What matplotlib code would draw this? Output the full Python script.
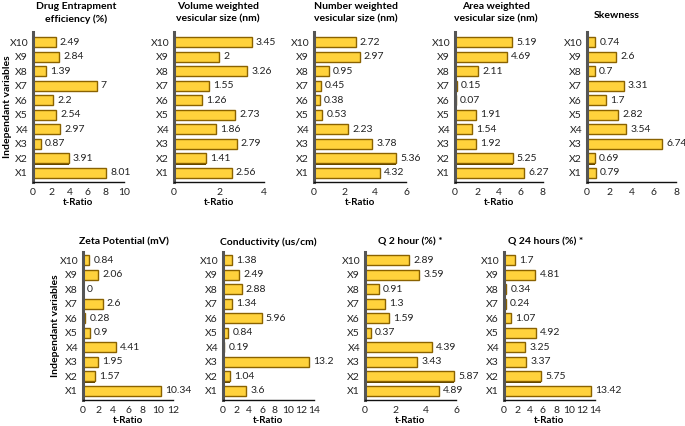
import matplotlib
matplotlib.use("Agg")
import matplotlib.pyplot as plt

plt.rcParams['font.family'] = ['Lato', 'DejaVu Sans']

variables = ['X1', 'X2', 'X3', 'X4', 'X5', 'X6', 'X7', 'X8', 'X9', 'X10']

entrapment = [8.01, 3.91, 0.87, 2.97, 2.54, 2.2, 7, 1.39, 2.84, 2.49]
volume_size = [2.56, 1.41, 2.79, 1.86, 2.73, 1.26, 1.55, 3.26, 2, 3.45]
number_size = [4.32, 5.36, 3.78, 2.23, 0.53, 0.38, 0.45, 0.95, 2.97, 2.72]
area_size = [6.27, 5.25, 1.92, 1.54, 1.91, 0.07, 0.15, 2.11, 4.69, 5.19]
skewness = [0.79, 0.69, 6.74, 3.54, 2.82, 1.7, 3.31, 0.7, 2.6, 0.74]
zeta = [10.34, 1.57, 1.95, 4.41, 0.9, 0.28, 2.6, 0, 2.06, 0.84]
conductivity = [3.6, 1.04, 13.2, 0.19, 0.84, 5.96, 1.34, 2.88, 2.49, 1.38]
q2 = [4.89, 5.87, 3.43, 4.39, 0.37, 1.59, 1.3, 0.91, 3.59, 2.89]
q24 = [13.42, 5.75, 3.37, 3.25, 4.92, 1.07, 0.24, 0.34, 4.81, 1.7]

titles = ['Drug Entrapment\nefficiency (%)', 'Volume weighted\nvesicular size (nm)',
          'Number weighted\nvesicular size (nm)', 'Area weighted\nvesicular size (nm)',
          'Skewness', 'Zeta Potential (mV)', 'Conductivity (us/cm)',
          'Q 2 hour (%) *', 'Q 24 hours (%) *']
series = [entrapment, volume_size, number_size, area_size, skewness,
          zeta, conductivity, q2, q24]
xmax = [10, 4, 6, 8, 8, 12, 14, 6, 14]

W, H = 685, 426
# axes boxes in pixels: left, right, top, bottom
boxes = [(33, 124, 32, 182), (174, 264, 32, 182), (314, 406, 32, 182),
         (455, 543, 32, 182), (587, 676, 32, 182),
         (83, 173, 252, 400), (223, 314, 252, 400), (365, 456, 252, 400),
         (504, 595, 252, 400)]
# title centres in pixels
title_pos = [(76, 13), (218, 13), (356, 13), (496, 13), (617, 15),
             (124, 242), (268, 242), (410, 242), (546, 242)]
show_xlabel = [True, True, True, True, False, True, True, True, True]

fig = plt.figure(figsize=(W / 100, H / 100), dpi=100)

for i, (vals, title, xm, box) in enumerate(zip(series, titles, xmax, boxes)):
    l, r, t, b = box
    ax = fig.add_axes([l / W, 1 - b / H, (r - l) / W, (b - t) / H])
    y = list(range(len(variables)))
    # shadow then bar
    ax.barh([v - 0.08 for v in y], vals, height=0.68, color='#5a4200', zorder=1)
    ax.barh(y, vals, height=0.68, color='#FFD23C', edgecolor='#8a6200',
            linewidth=1.0, zorder=2)
    for yy, v in zip(y, vals):
        ax.annotate(f'{v:g}', (v, yy), xytext=(3, 0), textcoords='offset points',
                    va='center', ha='left', fontsize=7.5, color='#222222',
                    annotation_clip=False)
    ax.set_xlim(0, xm)
    ax.set_ylim(-0.62, 9.69 if i < 5 else 9.55)
    ax.set_xticks(range(0, xm + 1, 2))
    ax.set_yticks(y)
    ax.set_yticklabels(variables)
    ax.tick_params(length=0, labelsize=7.5, colors='#222222')
    ax.tick_params(axis='x', pad=4)
    ax.spines['top'].set_visible(False)
    ax.spines['right'].set_visible(False)
    ax.spines['left'].set_color('#555555')
    ax.spines['left'].set_linewidth(2.2)
    ax.spines['bottom'].set_color('#111111')
    ax.spines['bottom'].set_linewidth(1.0)
    tx, ty = title_pos[i]
    fig.text(tx / W, 1 - ty / H, title, fontsize=7.5, fontweight='bold',
             ha='center', va='center', linespacing=1.45)
    if show_xlabel[i]:
        ax.set_xlabel('t-Ratio', fontsize=7, fontweight='bold', labelpad=1)
    if i in (0, 5):
        ax.set_ylabel('Independant variables', fontsize=7.5, fontweight='bold',
                      va='center')
        lx = 8 if i == 0 else 55
        ax.yaxis.set_label_coords((lx - l) / (r - l), 0.5)

fig.savefig('out.png', dpi=100)
